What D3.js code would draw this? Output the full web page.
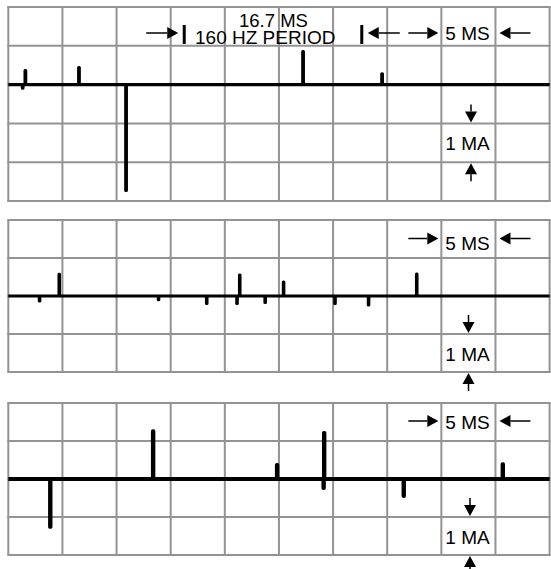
<!DOCTYPE html>
<html>
<head>
<meta charset="utf-8">
<script src="https://cdn.jsdelivr.net/npm/d3@7"></script>
<style>
  html, body { margin: 0; padding: 0; background: #fff; }
  svg text { font-family: "Liberation Sans", Arial, sans-serif; fill: #000; }
</style>
</head>
<body>
<div id="chart"></div>
<script>
// time axis: 10 divisions of 5 ms
const timeTicks = [0, 5, 10, 15, 20, 25, 30, 35, 40, 45, 50];

// trace events per panel: time (ms) and current (mA) relative to baseline
const panel1Times = [1.3, 1.55, 6.5, 10.85, 27.2, 34.5];
const panel1Amps  = [-0.09, 0.36, 0.44, -2.73, 0.85, 0.28];

const panel2Times = [2.86, 4.68, 13.85, 18.3, 21.1, 21.35, 23.7, 25.4, 30.15, 33.25, 37.7];
const panel2Amps  = [-0.13, 0.57, -0.1, -0.2, -0.2, 0.55, -0.17, 0.37, -0.2, -0.24, 0.58];

const panel3Times = [3.85, 13.35, 24.8, 29.1, 29.15, 36.5, 45.65];
const panel3Amps  = [-1.26, 1.26, 0.37, -0.24, 1.21, -0.45, 0.39];

// annotation values
const periodMarks = [16.25, 32.65];      // ms, 160 Hz period markers
const periodLabel = ['16.7 MS', '160 HZ PERIOD'];
const timeLabel = '5 MS';
const timeSpan = [40, 45];               // ms
const currentLabel = '1 MA';
const currentSpan = [-1, -2];            // mA

const width = 551, height = 569;
const svg = d3.select('#chart').append('svg')
   .attr('width', width)
   .attr('height', height);

const x = d3.scaleLinear().domain([0, 50]).range([8.3, 549.6]);

const panels = [
   { times: panel1Times, amps: panel1Amps, top: 7, bottom: 201, minI: -3, msY: 40, msArrowY: 33, maY: 150, maX: 471, tw: 3.2 },
   { times: panel2Times, amps: panel2Amps, top: 220, bottom: 372, minI: -2, msY: 250, msArrowY: 238.5, maY: 361, maX: 468.5, tw: 3 },
   { times: panel3Times, amps: panel3Amps, top: 403, bottom: 555, minI: -2, msY: 429, msArrowY: 421, maY: 544, maX: 470, tw: 3.8 }
];

function arrow(g, x1, y1, x2, y2) {
   const len = 11, half = 6;
   const dx = x2 - x1, dy = y2 - y1;
   const d = Math.hypot(dx, dy);
   const ux = dx / d, uy = dy / d;
   const bx = x2 - ux * len, by = y2 - uy * len;
   g.append('line')
      .attr('x1', x1).attr('y1', y1)
      .attr('x2', bx).attr('y2', by)
      .attr('stroke', '#000')
      .attr('stroke-width', 1.5);
   g.append('path')
      .attr('d', `M${x2},${y2}L${bx - uy * half},${by + ux * half}L${bx + uy * half},${by - ux * half}Z`)
      .attr('fill', '#000');
}

const line = d3.line().x(d => d[0]).y(d => d[1]);

panels.forEach((p, i) => {
   const y = d3.scaleLinear().domain([2, p.minI]).range([p.top, p.bottom]);
   const g = svg.append('g').attr('class', 'panel panel-' + (i + 1));

   // grid
   const grid = g.append('g').attr('class', 'grid');
   grid.selectAll('line.v')
      .data(timeTicks)
      .enter().append('line')
         .attr('class', 'v')
         .attr('x1', d => x(d)).attr('x2', d => x(d))
         .attr('y1', p.top).attr('y2', p.bottom)
         .attr('stroke', '#939393')
         .attr('stroke-width', 2);
   grid.selectAll('line.h')
      .data(d3.range(2, p.minI - 1, -1))
      .enter().append('line')
         .attr('class', 'h')
         .attr('x1', x(0) - 1).attr('x2', x(50) + 1)
         .attr('y1', d => y(d)).attr('y2', d => y(d))
         .attr('stroke', '#939393')
         .attr('stroke-width', 2);

   // trace
   const events = p.times.map((t, k) => ({ t: t, a: p.amps[k] }));
   const pts = [[x(0), y(0)]];
   events.forEach(e => {
      pts.push([x(e.t), y(0)], [x(e.t), y(e.a)], [x(e.t) + 0.6, y(e.a)], [x(e.t) + 0.6, y(0)]);
   });
   pts.push([x(50), y(0)]);
   g.append('path')
      .attr('class', 'trace')
      .attr('d', line(pts))
      .attr('fill', 'none')
      .attr('stroke', '#000')
      .attr('stroke-width', p.tw)
      .attr('stroke-linejoin', 'round');

   // 5 MS marker
   const ann = g.append('g').attr('class', 'annotations');
   arrow(ann, x(timeSpan[0]) - 33, p.msArrowY, x(timeSpan[0]) - 3, p.msArrowY);
   arrow(ann, x(timeSpan[1]) + 35, p.msArrowY, x(timeSpan[1]) + 4, p.msArrowY);
   ann.append('text')
      .attr('x', x(timeSpan[0]) + 4)
      .attr('y', p.msY)
      .attr('font-size', 19)
      .text(timeLabel);

   // 1 MA marker
   arrow(ann, p.maX, y(currentSpan[0]) - 19, p.maX, y(currentSpan[0]) - 1);
   arrow(ann, p.maX, y(currentSpan[1]) + 19, p.maX, y(currentSpan[1]) + 1);
   ann.append('text')
      .attr('x', x(timeSpan[0]) + 4)
      .attr('y', p.maY)
      .attr('font-size', 19)
      .text(currentLabel);

   if (i === 0) {
      // 160 Hz period markers
      periodMarks.forEach(m => {
         ann.append('rect')
            .attr('x', x(m) - 1.5).attr('y', 25)
            .attr('width', 3).attr('height', 19)
            .attr('fill', '#000');
      });
      arrow(ann, x(periodMarks[0]) - 38, 33, x(periodMarks[0]) - 6, 33);
      arrow(ann, x(periodMarks[1]) + 38, 33, x(periodMarks[1]) + 6, 33);
      ann.append('text')
         .attr('x', 239).attr('y', 27)
         .attr('font-size', 18.5)
         .text(periodLabel[0]);
      ann.append('text')
         .attr('x', 195).attr('y', 44)
         .attr('font-size', 19)
         .text(periodLabel[1]);
   }
});
</script>
</body>
</html>
